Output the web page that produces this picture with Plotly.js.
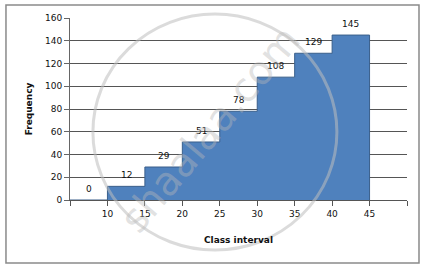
<!DOCTYPE html>
<html><head><meta charset="utf-8">
<script src="https://cdn.plot.ly/plotly-3.0.1.min.js"></script>
<style>html,body{margin:0;padding:0;background:#fff}#c{width:429px;height:272px}</style>
</head><body><div id="c"></div>
<script>
var classLower = [5, 10, 15, 20, 25, 30, 35, 40];
var classWidth = 5;
var cumFrequency = [0, 12, 29, 51, 78, 108, 129, 145];
var tickValues = [5, 10, 15, 20, 25, 30, 35, 40, 45, 50];
var tickLabels = ['', '10', '15', '20', '25', '30', '35', '40', '45', ''];

var font = 'DejaVu Sans, Verdana, sans-serif';
var n = classLower.length;
var lastUpper = classLower[n - 1] + classWidth;
var mids = classLower.map(function(v){return v + classWidth/2;});

// step outline of the cumulative frequency blocks
var stepX = classLower.concat([lastUpper, lastUpper]);
var stepY = cumFrequency.concat([cumFrequency[n - 1], 0]);

var area = {
  type: 'scatter', mode: 'lines', x: stepX, y: stepY,
  line: {shape: 'hv', color: '#3A5F8B', width: 1},
  fill: 'tozeroy', fillcolor: '#4F81BD', hoverinfo: 'none'
};

var labels = cumFrequency.map(function(v, i){
  return {x: mids[i], y: v, text: String(v), showarrow: false, yshift: 11,
          font: {family: font, size: 9, color: '#111'}};
});
labels.push({xref: 'paper', yref: 'paper', x: 0.415, y: 0.39, xanchor: 'center', yanchor: 'middle',
  text: 'shaalaa.com', showarrow: false, textangle: -50,
  font: {family: font, size: 40, color: 'rgba(185,185,185,0.42)'}});

var layout = {
  width: 429, height: 272,
  margin: {l: 70, r: 22, t: 18, b: 72},
  paper_bgcolor: '#fff', plot_bgcolor: '#fff',
  showlegend: false,
  font: {family: font, size: 9, color: '#111'},
  xaxis: {range: [5, 50], tickvals: tickValues, ticktext: tickLabels,
    showgrid: false, zeroline: false, showline: true, linecolor: '#555', linewidth: 1,
    ticks: 'outside', ticklen: 5, tickcolor: '#555',
    tickfont: {family: font, size: 9, color: '#111'},
    title: {text: '<b>Class interval</b>', font: {family: font, size: 9, color: '#111'}, standoff: 18}},
  yaxis: {range: [0, 160], dtick: 20, showgrid: true, gridcolor: '#555', gridwidth: 1,
    zeroline: false, showline: true, linecolor: '#666', linewidth: 1,
    ticks: 'outside', ticklen: 5, tickcolor: '#666',
    tickfont: {family: font, size: 9, color: '#111'},
    title: {text: '<b>Frequency</b>', font: {family: font, size: 9, color: '#111'}, standoff: 10}},
  shapes: [
    {type: 'rect', xref: 'paper', yref: 'paper', x0: -0.19, x1: 1.0356, y0: -0.346, y1: 1.071,
     line: {color: '#8a8a8a', width: 1.5}, layer: 'below'},
    {type: 'circle', xref: 'paper', yref: 'paper', x0: 0.068, x1: 0.792, y0: -0.275, y1: 1.022,
     line: {color: 'rgba(190,190,190,0.55)', width: 3}, layer: 'above'}
  ],
  annotations: labels
};

Plotly.newPlot('c', [area], layout, {displayModeBar: false, staticPlot: true});
</script></body></html>
